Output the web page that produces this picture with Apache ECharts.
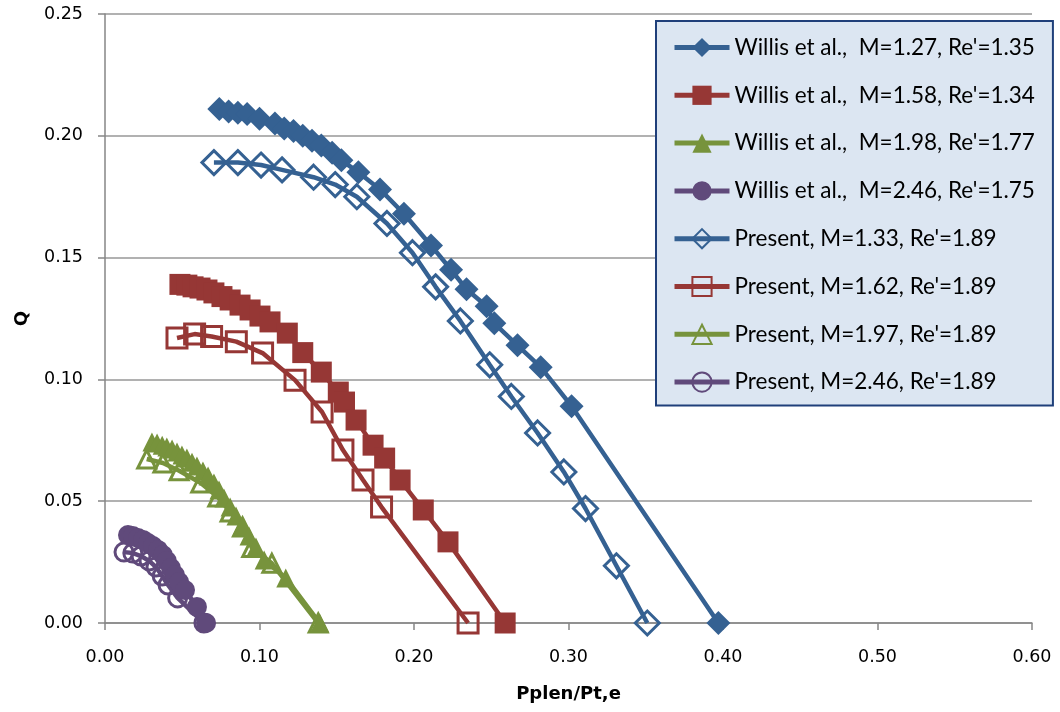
<!DOCTYPE html>
<html>
<head>
<meta charset="utf-8">
<script src="https://cdn.jsdelivr.net/npm/echarts@6/dist/echarts.min.js"></script>
<style>html,body{margin:0;padding:0;background:#fff}#c{width:1060px;height:712px}</style>
</head>
<body>
<div id="c"></div>
<script>
const seriesNames = [
  "Willis et al.,  M=1.27, Re'=1.35",
  "Willis et al.,  M=1.58, Re'=1.34",
  "Willis et al.,  M=1.98, Re'=1.77",
  "Willis et al.,  M=2.46, Re'=1.75",
  "Present, M=1.33, Re'=1.89",
  "Present, M=1.62, Re'=1.89",
  "Present, M=1.97, Re'=1.89",
  "Present, M=2.46, Re'=1.89"
];
const xTicks = [0, 0.1, 0.2, 0.3, 0.4, 0.5, 0.6];
const yTicks = [0, 0.05, 0.10, 0.15, 0.20, 0.25];

const willis127 = [[0.074,0.211],[0.080,0.210],[0.086,0.2095],[0.092,0.209],[0.100,0.207],[0.110,0.205],[0.116,0.203],[0.122,0.202],[0.128,0.200],[0.134,0.198],[0.140,0.196],[0.147,0.193],[0.153,0.190],[0.164,0.185],[0.178,0.178],[0.1935,0.168],[0.211,0.155],[0.224,0.145],[0.234,0.137],[0.247,0.130],[0.252,0.123],[0.267,0.114],[0.282,0.105],[0.302,0.089],[0.397,0.000]];
const willis158 = [[0.0485,0.139],[0.053,0.1387],[0.057,0.138],[0.0615,0.1375],[0.066,0.1367],[0.0705,0.1355],[0.0757,0.134],[0.081,0.1326],[0.0874,0.1305],[0.0939,0.1285],[0.1003,0.126],[0.1068,0.1236],[0.118,0.119],[0.128,0.111],[0.140,0.103],[0.151,0.0948],[0.155,0.0907],[0.1625,0.0833],[0.1735,0.073],[0.181,0.0677],[0.191,0.0587],[0.206,0.0464],[0.222,0.0333],[0.259,0.000]];
const willis198 = [[0.0304,0.0743],[0.0337,0.0739],[0.037,0.073],[0.040,0.0722],[0.0434,0.0714],[0.0466,0.0702],[0.0498,0.069],[0.053,0.0677],[0.0563,0.066],[0.0595,0.0644],[0.0634,0.0624],[0.0667,0.0603],[0.0705,0.0575],[0.0738,0.0546],[0.077,0.0513],[0.081,0.0476],[0.0848,0.0439],[0.0887,0.0398],[0.0932,0.0357],[0.0977,0.0312],[0.103,0.0259],[0.117,0.0185],[0.139,0.000]];
const willis246 = [[0.0149,0.0361],[0.018,0.0357],[0.0214,0.0349],[0.0246,0.0341],[0.0278,0.0328],[0.031,0.0316],[0.0343,0.030],[0.0375,0.0279],[0.040,0.0255],[0.0427,0.0226],[0.0453,0.0197],[0.048,0.0168],[0.0518,0.0135],[0.0595,0.0066],[0.0654,0.000]];
const present133 = [[0.0705,0.189],[0.086,0.189],[0.101,0.188],[0.1146,0.186],[0.135,0.183],[0.149,0.180],[0.163,0.175],[0.1825,0.164],[0.199,0.152],[0.214,0.138],[0.230,0.124],[0.249,0.106],[0.263,0.093],[0.280,0.078],[0.297,0.062],[0.311,0.047],[0.331,0.0235],[0.351,0.000]];
const present162 = [[0.0466,0.117],[0.058,0.1186],[0.069,0.1176],[0.085,0.1155],[0.102,0.1108],[0.123,0.0997],[0.1405,0.0866],[0.154,0.0710],[0.167,0.0587],[0.179,0.0476],[0.235,0.000]];
const present197 = [[0.027,0.0673],[0.0375,0.0657],[0.048,0.0625],[0.062,0.0575],[0.073,0.0517],[0.081,0.0456],[0.089,0.0394],[0.095,0.031],[0.108,0.0245],[0.138,0.000]];
const present246 = [[0.0123,0.0291],[0.018,0.0287],[0.0233,0.0275],[0.0285,0.0255],[0.033,0.023],[0.037,0.0193],[0.0408,0.0156],[0.047,0.0103],[0.064,0.000]];

const BLUE = '#356192', RED = '#963735', GREEN = '#77933C', PURPLE = '#604A7B';
const dataSets = [willis127, willis158, willis198, willis246, present133, present162, present197, present246];
const colors = [BLUE, RED, GREEN, PURPLE, BLUE, RED, GREEN, PURPLE];
const symbols = ['diamond', 'rect', 'triangle', 'circle', 'diamond', 'rect', 'triangle', 'circle'];
const sizes = [24, 21, 19, 20, 24, 20, 18, 18];

const series = dataSets.map((d, i) => {
  const hollow = i >= 4;
  return {
    name: seriesNames[i],
    type: 'line',
    data: d,
    symbol: symbols[i],
    symbolSize: sizes[i],
    showAllSymbol: true,
    z: 10 - i,
    lineStyle: { color: colors[i], width: 4.5 },
    itemStyle: hollow
      ? { color: 'rgba(255,255,255,0)', borderColor: colors[i], borderWidth: 3 }
      : { color: colors[i], borderColor: colors[i], borderWidth: 0 },
    emphasis: { disabled: true },
    animation: false
  };
});

const chart = echarts.init(document.getElementById('c'), null, { renderer: 'canvas' });
chart.setOption({
  animation: false,
  backgroundColor: '#ffffff',
  grid: { left: 105, right: 28, top: 14, bottom: 89, containLabel: false },
  xAxis: {
    type: 'value', min: xTicks[0], max: xTicks[xTicks.length - 1], interval: 0.1,
    name: 'Pplen/Pt,e', nameLocation: 'middle', nameGap: 62,
    nameTextStyle: { fontFamily: 'DejaVu Sans', fontWeight: 'bold', fontSize: 18, color: '#000' },
    axisLine: { show: true, lineStyle: { color: '#868686', width: 1.5 } },
    axisTick: { show: true, inside: false, length: 7, lineStyle: { color: '#868686', width: 1.5 } },
    axisLabel: { margin: 25, fontFamily: 'DejaVu Sans', fontSize: 17.5, color: '#000', formatter: v => v.toFixed(2) },
    splitLine: { show: false }
  },
  yAxis: {
    type: 'value', min: yTicks[0], max: yTicks[yTicks.length - 1], interval: 0.05,
    name: 'Q', nameLocation: 'middle', nameGap: 74, nameRotate: 90,
    nameTextStyle: { fontFamily: 'DejaVu Sans', fontWeight: 'bold', fontSize: 18, color: '#000' },
    axisLine: { show: true, lineStyle: { color: '#868686', width: 1.5 } },
    axisTick: { show: true, inside: false, length: 7, lineStyle: { color: '#868686', width: 1.5 } },
    axisLabel: { margin: 22, fontFamily: 'DejaVu Sans', fontSize: 17.5, color: '#000', formatter: v => v.toFixed(2) },
    splitLine: { show: true, lineStyle: { color: '#979797', width: 1.5 } }
  },
  legend: {
    orient: 'vertical', left: 656, top: 21,
    padding: [15, 18, 12, 16],
    backgroundColor: '#DCE6F2', borderColor: '#1F3F7A', borderWidth: 2,
    itemWidth: 55, itemHeight: 24, itemGap: 24.8,
    lineStyle: { width: 5 },
    textStyle: { fontFamily: 'Lato', fontSize: 22.5, color: '#000', lineHeight: 20 },
    selectedMode: false,
    data: seriesNames
  },
  series: series
});
</script>
</body>
</html>
